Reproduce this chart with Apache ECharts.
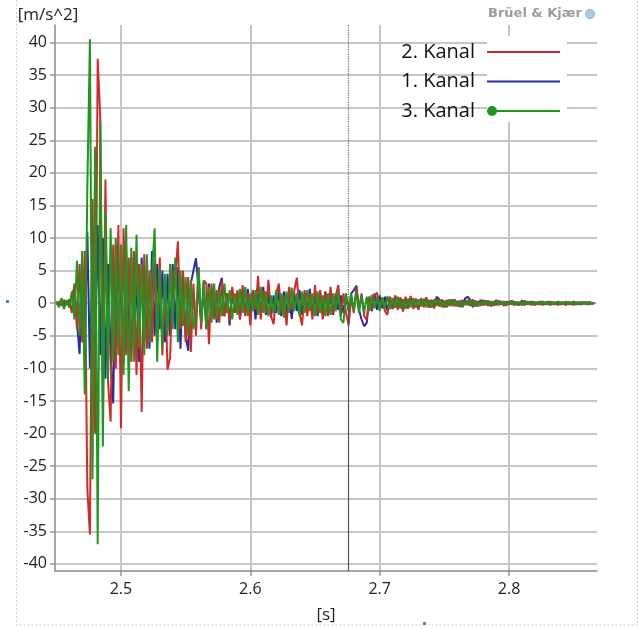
<!DOCTYPE html>
<html><head><meta charset="utf-8">
<script src="https://cdn.jsdelivr.net/npm/echarts@6/dist/echarts.min.js"></script>
<style>html,body{margin:0;padding:0;background:#fff}#c{width:644px;height:629px}</style>
</head><body><div id="c"></div>
<script>
// sampling grid of the recording
const sampleStart = 2.450;
const sampleStep = 0.002;

// 1. Kanal (blue)
const kanal1 = [
 0.1, -0.2, 0.3, -0.2, 0.4, -0.5, 1, 2.5, -3, -7.8,
 5, -6, 11, -10, 8, -9, 12, -8, 10, -11.6,
 6, -8, -15.4, 9, -7, 6, -9, 8, -6, 7,
 -8, 5, -9, 7, -6, 5, -7, 8, -5, 6,
 -4, 5, -6, 4.5, -5, 6, -4, 5.5, -7, 4,
 -5, -7.3, 3, 5, 6.9, 2, -3, 2.5, -4, 3,
 -2, 2, -3, 2.5, 3.9, -2, 1.5, -3.4, 2, -1.5,
 1.8, -2.5, 1.5, -1.8, 2.2, -1.5, 2, -2.5, 1.5, -1.2,
 2.5, -1.8, 1.5, -2.2, 1.2, -1.5, 2, -2, 1.8, -1.5,
 1.2, -2.4, 1.5, -1.2, 2, -1.8, 1.5, -1.2, 2.2, -1.5,
 1, -2, 1.5, -1, 1.8, -1.5, 1.2, -1.8, 1.5, -1,
 1.2, -1.5, 1, -1.2, 1.5, 2, 2.7, -1, -2.5, -3.5,
 -3, 1, -1.2, 1.5, -1, 1.2, -0.8, 1, -1.2, 0.8,
 -0.9, 1.1, -0.7, 0.8, -1, 0.6, -0.8, 0.9, -0.6, 0.7,
 -0.8, 0.6, -0.5, 0.8, -0.6, 0.5, -0.7, 1, 0.6, -0.5,
 0.4, -0.6, 0.5, -0.4, 0.6, -0.5, 0.4, -0.6, 0.7, 1,
 0.5, -0.6, 0.4, -0.5, 0.5, -0.3, 0.4, -0.4, 0.3, -0.4,
 0.5, -0.3, 0.3, -0.4, 0.3, -0.2, 0.4, -0.3, 0.2, -0.3,
 0.4, -0.3, 0.2, -0.2, 0.3, -0.3, 0.2, -0.2, 0.3, -0.2,
 0.3, -0.3, 0.2, -0.2, 0.3, -0.2, 0.2, -0.3, 0.2, -0.2,
 0.3, -0.2, 0.2, -0.2, 0.1, -0.2, 0.2, -0.1, 0.1
];

// 2. Kanal (red)
const kanal2 = [
 -0.2, 0.3, -0.4, 0.5, -0.3, 0.6, -1.5, 3, -4, 6,
 -6, 8, -28.5, -35.5, 16, -20, 37.5, 28.5, -15, 19,
 -12, -18.2, 9, -10, 12, -19.2, 11.5, -8, 7, -9,
 8, -11, 6, -16.7, 7.5, -7, 5, -6, 6.5, -5,
 7, -8, 4, -10.2, -8.3, 5, 4, 9.5, -4, 5,
 -6, 4, -7.5, 3, -5, 5.5, -4, 3.5, 3, -6.3,
 3, -2.5, 2, -3, 3.5, -2, 1.5, -2.8, 2.5, -1.5,
 2, -2.5, 2.8, -2, 1.5, -3.4, 2, -1, 4.2, -2.5,
 2, -1.5, 3.6, -2, -3.2, 1.5, 3, -1.5, 1, -3.4,
 2.5, -1, 2, 3.9, -1.5, -3.4, 2, -2, 1.5, -2.5,
 2.8, -1.5, 2, -2.5, 1.5, -2, 2.5, -1.5, 1, 2.8,
 -2, 1.5, -1.5, -3.4, 1, -1.5, 2.5, -1, 1.5, -2,
 -2.5, 1, -1, 1.2, 1.6, -1, 0.8, -1.2, -1.8, 1,
 -0.8, 1.2, -1, 0.9, -1.3, 1, -0.7, 1.1, -0.9, 0.6,
 -1, 0.8, -0.6, 0.9, -0.7, 0.5, -0.8, 0.7, -0.5, 0.6,
 -0.7, 0.5, -0.4, 0.6, -0.5, 0.4, -0.6, 0.5, -0.3, 0.5,
 -0.4, 0.6, -0.5, 0.3, -0.4, 0.5, -0.3, 0.4, -0.5, 0.3,
 -0.3, 0.4, -0.2, 0.3, -0.4, 0.3, -0.2, 0.3, -0.3, 0.2,
 -0.3, 0.4, -0.2, 0.3, -0.3, 0.2, -0.2, 0.3, -0.3, 0.2,
 -0.2, 0.3, -0.2, 0.2, -0.3, 0.2, -0.2, 0.3, -0.2, 0.2,
 -0.3, 0.2, -0.2, 0.2, -0.1, 0.2, -0.2, 0.1, -0.1
];

// 3. Kanal (green)
const kanal3 = [
 0.3, -0.6, 0.8, -0.9, 0.5, -0.7, 1.8, -2.5, 6.5, -5,
 8, -14, 18, 40.5, -27, 24, -37, 28, -22, 14,
 -12, 11.5, -9, 10, -8, 9, -11, 12, -13.5, 8.5,
 -9, 10.5, -7, 6, -8, 7.5, -6, 4, 11.5, -9,
 5.5, -7, 4.5, -5, 6, -4, 7, -6, 5, -3.5,
 4, -5, 3.5, -4, -2, 5.5, -3, 3.5, -4, 2.5,
 -3, 3, -2.5, 2, -2, 3, -1.5, 2, -2.5, 1.5,
 -1.8, 2.2, -1.5, 2.5, -2, 1.5, -1.2, 2, -1.8, 2.5,
 -1.5, 1.8, -2, 1.2, -1.5, 2, -1.8, 1.5, -2.2, 1.8,
 -1.5, 2.4, -1.2, 1.5, -2, 1.8, -1.5, 2, -1.2, 1.5,
 -2, 1.8, -1.5, 1.2, -2, 1.5, -1.8, 1.5, -1.2, 1.8,
 -2.5, -3, 1.5, -1, 1.5, -1.2, 1.8, -1.5, 1.2, -1.5,
 1, -1.2, 1.3, -0.8, 1, -1.2, 0.9, -0.8, 1.1, -0.9,
 0.8, -0.7, 1, -0.8, 0.6, -0.9, 0.7, -0.6, 0.8, -0.7,
 0.6, -0.5, 0.7, -0.6, 0.5, -0.7, 0.6, -0.4, 0.5, -0.6,
 0.4, -0.5, 0.6, -0.4, 0.5, -0.4, 0.3, -0.5, 0.4, -0.3,
 0.5, -0.4, 0.3, -0.4, 0.3, -0.3, 0.4, -0.3, 0.2, -0.3,
 0.3, -0.2, 0.3, -0.3, 0.2, -0.2, 0.3, -0.2, 0.2, -0.3,
 0.2, -0.2, 0.3, -0.2, 0.2, -0.2, 0.1, -0.2, 0.2, -0.1,
 0.2, -0.2, 0.1, -0.2, 0.2, -0.1, 0.1, -0.2, 0.2, -0.1,
 0.1, -0.2, 0.1, -0.1, 0.2, -0.1, 0.1, -0.1, 0.1
];

const legendNames = ['2. Kanal', '1. Kanal', '3. Kanal'];
const xTicks = [2.5, 2.6, 2.7, 2.8];
const yTicks = [-40, -35, -30, -25, -20, -15, -10, -5, 0, 5, 10, 15, 20, 25, 30, 35, 40];
const xRange = [2.449, 2.868];
const yRange = [-41.1, 42.7];
const cursorTime = 2.676;

function pairs(vals) {
  return vals.map((v, i) => [+(sampleStart + i * sampleStep).toFixed(3), v]);
}

const RED = '#d02a2a', BLUE = '#2a2aa8', GREEN = '#1f961f';
const FONT = 'Open Sans';

const chart = echarts.init(document.getElementById('c'), null, {renderer: 'canvas'});
chart.setOption({
  animation: false,
  backgroundColor: '#fff',
  grid: {left: 55, right: 47, top: 25, bottom: 54, containLabel: false},
  xAxis: {
    type: 'value', min: xRange[0], max: xRange[1],
    name: '[s]', nameLocation: 'middle', nameGap: 36,
    nameTextStyle: {fontFamily: FONT, fontSize: 17, color: '#222'},
    axisLine: {show: true, onZero: false, lineStyle: {color: '#8a8a8a', width: 1.5}},
    axisTick: {show: true, length: 5, customValues: xTicks, lineStyle: {color: '#999', width: 1.5}},
    axisLabel: {customValues: xTicks, margin: 10, fontFamily: FONT, fontSize: 16, color: '#222',
      formatter: v => v.toFixed(1)},
    splitLine: {show: true, lineStyle: {color: '#c6c6c6', width: 2}}
  },
  yAxis: {
    type: 'value', min: yRange[0], max: yRange[1],
    name: '[m/s^2]', nameLocation: 'end', nameGap: 10,
    nameTextStyle: {fontFamily: FONT, fontSize: 17, color: '#222', align: 'center', verticalAlign: 'middle', padding: [0, 14, 0, 0]},
    axisLine: {show: true, onZero: false, lineStyle: {color: '#8a8a8a', width: 1.5}},
    axisTick: {show: true, length: 5, customValues: yTicks, lineStyle: {color: '#999', width: 1.5}},
    axisLabel: {customValues: yTicks, margin: 8, fontFamily: FONT, fontSize: 16, color: '#222'},
    splitLine: {show: true, lineStyle: {color: '#c6c6c6', width: 2}}
  },
  legend: {
    orient: 'vertical', right: 79, top: 37, align: 'right',
    itemWidth: 73, itemHeight: 12, itemGap: 9.5, selectedMode: false,
    textStyle: {fontFamily: FONT, fontSize: 20, lineHeight: 20, color: '#111', padding: [0, 7, 0, 0]},
    data: [
      {name: legendNames[0], icon: 'path://M0,0H73V2H0Z'},
      {name: legendNames[1], icon: 'path://M0,0H73V2H0Z'},
      {name: legendNames[2], icon: 'path://M5,0A5,5 0 1 1 5,10A5,5 0 1 1 5,0Z M5,4H73V6H5Z'}
    ],
    z: 6
  },
  graphic: [
    {type: 'rect', silent: true, z: -10, shape: {x: 16.5, y: -2, width: 621, height: 627},
      style: {fill: 'none', stroke: '#cfcfcf', lineWidth: 1, lineDash: [2, 2]}},
    {type: 'rect', silent: true, z: 3, shape: {x: 487, y: 36, width: 80, height: 86}, style: {fill: '#ffffff'}},
    {type: 'text', silent: true, z: 5, x: 488, y: 7,
      style: {text: 'Brüel & Kjær', fill: '#9c9c9c', font: 'bold 13px "DejaVu Sans"'}},
    {type: 'circle', silent: true, z: 5, shape: {cx: 590, cy: 14, r: 4.5},
      style: {fill: '#a9cbe8', stroke: '#7eb0dc', lineWidth: 1}},
    {type: 'rect', silent: true, z: 5, shape: {x: 6, y: 300, width: 3, height: 3}, style: {fill: '#4f86bd'}},
    {type: 'rect', silent: true, z: 5, shape: {x: 423, y: 622, width: 3, height: 3}, style: {fill: '#4f86bd'}}
  ],
  series: [
    {type: 'line', name: legendNames[1], data: pairs(kanal1), symbol: 'none', z: 2,
      lineStyle: {width: 2, color: BLUE}, itemStyle: {color: BLUE},
      markLine: {
        silent: true, symbol: 'none', label: {show: false},
        data: [
          [{coord: [cursorTime, yRange[1]], lineStyle: {type: 'dotted', color: '#666', width: 1.2}},
           {coord: [cursorTime, 0]}],
          [{coord: [cursorTime, 0], lineStyle: {type: 'solid', color: '#555', width: 1.2}},
           {coord: [cursorTime, yRange[0]]}]
        ]
      }},
    {type: 'line', name: legendNames[0], data: pairs(kanal2), symbol: 'none', z: 3,
      lineStyle: {width: 2, color: RED}, itemStyle: {color: RED}},
    {type: 'line', name: legendNames[2], data: pairs(kanal3), symbol: 'none', z: 4,
      lineStyle: {width: 2, color: GREEN}, itemStyle: {color: GREEN}}
  ]
});
</script>
</body></html>
